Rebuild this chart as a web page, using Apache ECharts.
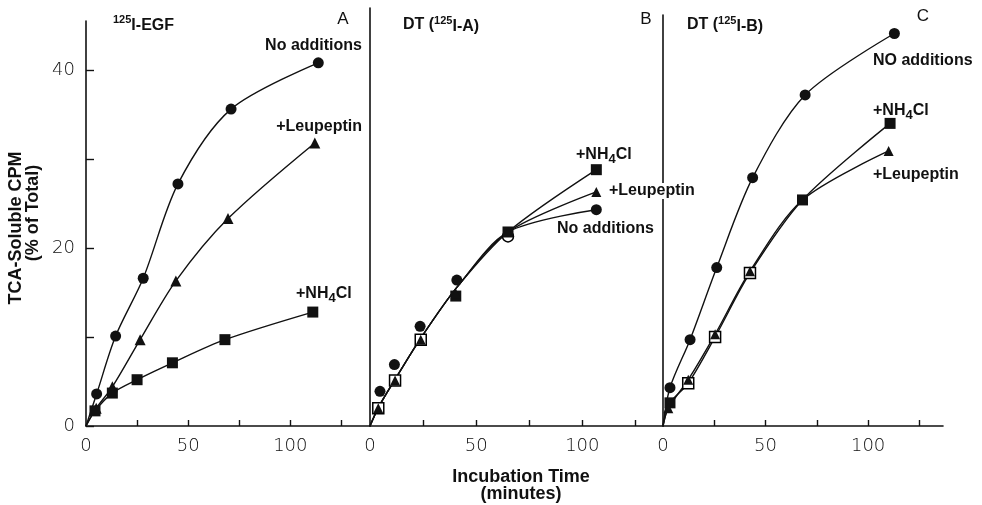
<!DOCTYPE html>
<html>
<head>
<meta charset="utf-8">
<script src="https://cdn.jsdelivr.net/npm/echarts@6/dist/echarts.min.js"></script>
<style>
	html,body{margin:0;padding:0;background:#fff;}
	#chart{width:982px;height:505px;}
</style>
</head>
<body>
<div id="chart"></div>
<script>
// panel A : 125I-EGF
var aNoneX = [5.2, 14.5, 28, 45, 71, 113.7] ;
var aNoneY = [3.6, 10.1, 16.6, 27.2, 35.6, 40.8] ;
var aLeupX = [5, 12.9, 26.5, 44, 69.5, 112] ;
var aLeupY = [2.0, 4.4, 9.7, 16.3, 23.3, 31.8] ;
var aNh4X = [4.4, 12.9, 25, 42.3, 68, 111] ;
var aNh4Y = [1.7, 3.7, 5.2, 7.1, 9.7, 12.8] ;
// panel B : DT (125I-A)
var bNoneX = [4.7, 11.5, 23.6, 40.9, 65, 106.6] ;
var bNoneY = [3.9, 6.9, 11.2, 16.4, 21.3, 24.3] ;
var bNoneOpen = [0, 0, 0, 0, 1, 0] ;
var bLeupX = [3.9, 11.8, 23.9, 40.4, 65, 106.6] ;
var bLeupY = [2.0, 5.1, 9.7, 14.9, 21.8, 26.3] ;
var bNh4X = [3.9, 11.8, 23.9, 40.4, 65, 106.6] ;
var bNh4Y = [2.0, 5.1, 9.7, 14.6, 21.8, 28.8] ;
var bNh4Open = [1, 1, 1, 0, 0, 0] ;
// fitted curve of panel B, common part then the three branches
var bCurveX = [0, 4, 12, 24, 41, 65] ;
var bCurveY = [0, 2.1, 5.3, 9.9, 15.6, 21.8] ;
var bEndX = 106.6 ;
var bEndNone = 24.3, bEndLeup = 26.3, bEndNh4 = 28.8 ;
// panel C : DT (125I-B)
var cNoneX = [3.4, 13.2, 26.2, 43.7, 69.3, 112.8] ;
var cNoneY = [4.3, 9.7, 17.8, 27.9, 37.2, 44.1] ;
var cLeupX = [2.6, 12.3, 25.4, 42.4, 68, 110] ;
var cLeupY = [2.0, 5.2, 10.3, 17.4, 25.4, 30.9] ;
var cNh4X = [3.4, 12.3, 25.4, 42.4, 68, 110.7] ;
var cNh4Y = [2.6, 4.8, 10.0, 17.2, 25.4, 34.0] ;
var cNh4Open = [0, 1, 1, 1, 0, 0] ;
// axis ticks
var xTicks = [25, 50, 75, 100, 125] ;
var xLabels = [0, 50, 100] ;
var yTicks = [0, 10, 20, 30, 40] ;
var yLabels = [0, 20, 40] ;

var chart = echarts.init(document.getElementById('chart'), null, {renderer:'canvas'}) ;
chart.setOption(buildOption()) ;

function pairs(xs, ys, open){
	var out = [] ;
	for(var i=0;i<xs.length;i++){
		var item = {value:[xs[i], ys[i]]} ;
		if(open && open[i]){
			item.itemStyle = {color:'#fff', borderColor:'#000', borderWidth:1.5} ;
		}
		out.push(item) ;
	}
	return out ;
}
function curve(xs, ys, endX, endY){
	var pts = [[0,0]] ;
	for(var i=0;i<xs.length;i++){
		if(xs[i] === 0) continue ;
		pts.push([xs[i], ys[i]]) ;
	}
	if(endX !== undefined) pts.push([endX, endY]) ;
	return pts ;
}
function lineSeries(idx, data){
	return {
		type:'line', xAxisIndex:idx, yAxisIndex:idx, data:data,
		smooth:0.3, showSymbol:false, silent:true, z:1,
		lineStyle:{color:'#111', width:1.4}
	} ;
}
function markSeries(idx, symbol, size, data){
	return {
		type:'scatter', xAxisIndex:idx, yAxisIndex:idx, data:data,
		symbol:symbol, symbolSize:size, z:3,
		itemStyle:{color:'#111', opacity:1}
	} ;
}
function xAxis(idx, max){
	return {
		type:'value', gridIndex:idx, min:0, max:max,
		axisLine:{show:true, onZero:false, lineStyle:{color:'#111', width:1.6}},
		axisTick:{show:true, inside:true, length:6, customValues:xTicks, lineStyle:{color:'#111', width:1.4}},
		axisLabel:{customValues:xLabels, margin:11, color:'#111', fontSize:18, fontFamily:'DejaVu Sans', fontWeight:'lighter'},
		splitLine:{show:false}
	} ;
}
function yAxis(idx, max, withTicks){
	return {
		type:'value', gridIndex:idx, min:0, max:max,
		axisLine:{show:true, onZero:false, lineStyle:{color:'#111', width:1.6}},
		axisTick:{show:withTicks, inside:true, length:8, customValues:yTicks, lineStyle:{color:'#111', width:1.4}},
		axisLabel:{show:withTicks, customValues:yLabels, margin:11, color:'#111', fontSize:18, fontFamily:'DejaVu Sans', fontWeight:'lighter'},
		splitLine:{show:false}
	} ;
}
function label(text, x, y, align, extra, size){
	size = size || 16 ;
	var style = {
		text:text, x:x, y:y, fill:'#111',
		font:'bold ' + size + 'px "Liberation Sans", Arial, sans-serif',
		textAlign:align || 'left', textVerticalAlign:'middle',
		rich:{
			b:{fontSize:size, fontWeight:'bold', fontFamily:'Liberation Sans', color:'#111', lineHeight:19, verticalAlign:'bottom'},
			sup:{fontSize:11, fontWeight:'bold', fontFamily:'Liberation Sans', color:'#111', lineHeight:19, verticalAlign:'top'},
			sub:{fontSize:13, fontWeight:'bold', fontFamily:'Liberation Sans', color:'#111', lineHeight:19, verticalAlign:'bottom', padding:[0,0,-3,0]}
		}
	} ;
	if(extra){ for(var k in extra) style[k] = extra[k] ; }
	return {type:'text', z:10, style:style} ;
}
function buildOption(){
	var nh4 = '{b|+NH}{sub|4}{b|Cl}' ;
	var plain = {font:'17px "Liberation Sans", Arial, sans-serif'} ;
	var option = {
		backgroundColor:'#fff',
		animation:false,
		grid:[
			{left:86, top:21, width:284, height:405},
			{left:370, top:8, width:293, height:418},
			{left:663, top:15, width:280, height:411}
		],
		xAxis:[xAxis(0, 139), xAxis(1, 138), xAxis(2, 136.5)],
		yAxis:[yAxis(0, 45.5, true), yAxis(1, 418/8.9, false), yAxis(2, 411/8.9, false)],
		series:[
			lineSeries(0, curve(aNoneX, aNoneY)),
			lineSeries(0, curve(aLeupX, aLeupY)),
			lineSeries(0, curve(aNh4X, aNh4Y)),
			markSeries(0, 'circle', 11, pairs(aNoneX, aNoneY)),
			markSeries(0, 'triangle', 11, pairs(aLeupX, aLeupY)),
			markSeries(0, 'rect', 11, pairs(aNh4X, aNh4Y)),

			lineSeries(1, curve(bCurveX, bCurveY, bEndX, bEndNone)),
			lineSeries(1, curve(bCurveX, bCurveY, bEndX, bEndLeup)),
			lineSeries(1, curve(bCurveX, bCurveY, bEndX, bEndNh4)),
			markSeries(1, 'circle', 11, pairs(bNoneX, bNoneY, bNoneOpen)),
			markSeries(1, 'rect', 11, pairs(bNh4X, bNh4Y, bNh4Open)),
			markSeries(1, 'triangle', 10, pairs(bLeupX, bLeupY)),

			lineSeries(2, curve(cNoneX, cNoneY)),
			lineSeries(2, curve(cLeupX, cLeupY)),
			lineSeries(2, curve(cNh4X, cNh4Y)),
			markSeries(2, 'circle', 11, pairs(cNoneX, cNoneY)),
			markSeries(2, 'rect', 11, pairs(cNh4X, cNh4Y, cNh4Open)),
			markSeries(2, 'triangle', 10, pairs(cLeupX, cLeupY))
		],
		graphic:[
			label('{sup|125}{b|I-EGF}', 113, 24),
			label('A', 343, 19, 'center', plain),
			label('No additions', 362, 46, 'right'),
			label('+Leupeptin', 362, 127, 'right'),
			label(nh4, 296, 292),

			label('DT ({sup|125}{b|I-A)}', 403, 25),
			label('B', 646, 19, 'center', plain),
			label(nh4, 576, 153),
			label('+Leupeptin', 609, 191, 'left', {backgroundColor:'#fff'}),
			label('No additions', 557, 229, 'left', {backgroundColor:'#fff'}),

			label('DT ({sup|125}{b|I-B)}', 687, 25),
			label('C', 923, 16, 'center', plain),
			label('NO additions', 873, 61),
			label(nh4, 873, 109),
			label('+Leupeptin', 873, 175),

			label('Incubation Time', 521, 477, 'center', null, 18),
			label('(minutes)', 521, 494, 'center', null, 18),
			{type:'group', x:16, y:228, rotation:Math.PI/2, children:[
				label('TCA-Soluble CPM', 0, 0, 'center', null, 18)
			]},
			{type:'group', x:33, y:213, rotation:Math.PI/2, children:[
				label('(% of Total)', 0, 0, 'center', null, 18)
			]}
		]
	} ;
	return option ;
}
</script>
</body>
</html>
